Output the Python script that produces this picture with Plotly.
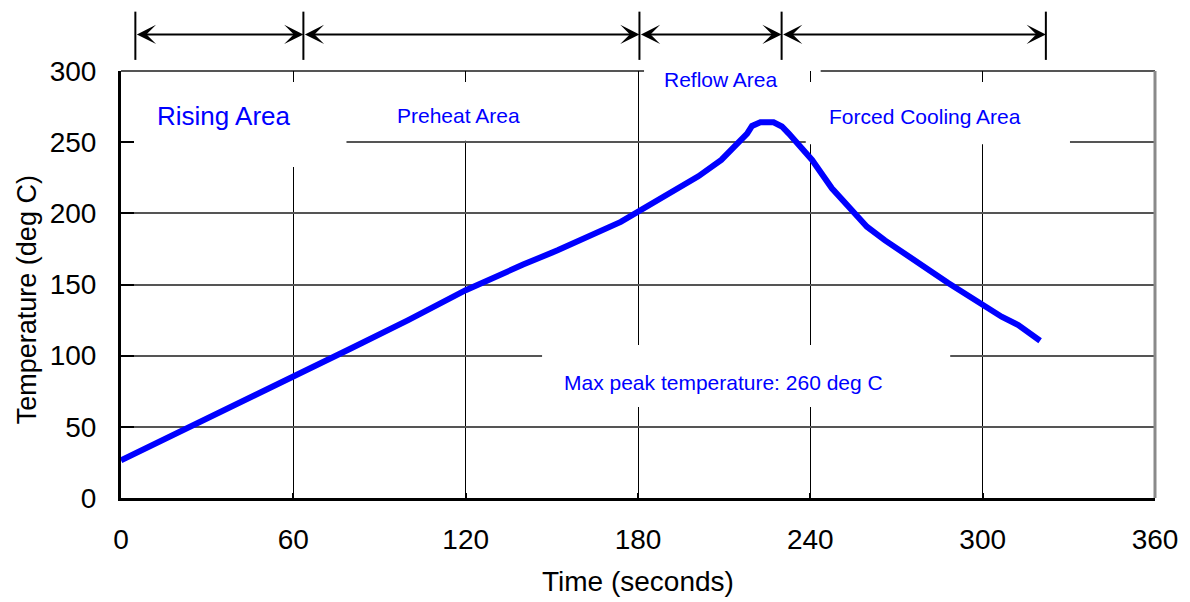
import plotly.graph_objects as go

# ---- data ----
time_s = [0, 20, 40, 60, 80, 100, 120, 140, 152, 174, 180, 190, 201, 209, 216,
          218, 219.7, 222.6, 227.2, 230.1, 232.5, 238.8, 240.6, 247.5, 253.3,
          259.7, 266, 273, 280, 288, 294, 300.5, 306.6, 312.4, 320]
temp_c = [26.5, 46, 65, 84.5, 105, 125, 146, 164, 174, 194, 201, 213, 226, 237.5, 251.5,
          256, 261.4, 264, 264, 261, 256, 242, 237.5, 217.6, 204.7,
          190.6, 181, 172, 162, 151, 143.5, 135.6, 127.4, 121.5, 110.5]

x_ticks = [0, 60, 120, 180, 240, 300, 360]
y_ticks = [0, 50, 100, 150, 200, 250, 300]

area_bounds = [5, 63.5, 180.5, 230, 322]
area_labels = ["Rising Area", "Preheat Area", "Reflow Area", "Forced Cooling Area"]
peak_label = "Max peak temperature: 260 deg C"

BLUE = "#0000FF"
FONT = "Liberation Sans, Arial, sans-serif"

fig = go.Figure()
fig.add_trace(go.Scatter(x=time_s, y=temp_c, mode="lines",
                         line=dict(color=BLUE, width=6), showlegend=False,
                         hoverinfo="skip"))

shapes = []
# top border (drawn under the white label boxes)
shapes.append(dict(type="line", xref="paper", yref="paper", x0=0, x1=1, y0=1, y1=1,
                   line=dict(color="#555555", width=2), layer="between"))
# white label boxes hiding the grid
boxes = [
    dict(xref="x", yref="y", x0=4.5, x1=78.5, y0=232.6, y1=292.3),
    dict(xref="x", yref="y", x0=88.3, x1=164, y0=251, y1=292.3),
    dict(xref="x", yref="paper", x0=182.1, x1=243.6, y0=0.944, y1=1.03),
    dict(xref="x", yref="y", x0=238.4, x1=330.4, y0=248.6, y1=292.3),
    dict(xref="x", yref="y", x0=146.6, x1=288.7, y0=63.9, y1=107.5),
]
for b in boxes:
    shapes.append(dict(type="rect", fillcolor="white", line=dict(width=0),
                       layer="between", **b))
# right border
shapes.append(dict(type="line", xref="paper", yref="paper", x0=1, x1=1, y0=0, y1=1,
                   line=dict(color="#8a8a8a", width=3), layer="above"))
# boundary bars above the plot
for xb in area_bounds:
    shapes.append(dict(type="line", xref="x", yref="paper", x0=xb, x1=xb,
                       y0=1.026, y1=1.139, line=dict(color="black", width=2),
                       layer="above"))

annotations = []
for a, b in zip(area_bounds[:-1], area_bounds[1:]):
    annotations.append(dict(x=b, y=1.0857, ax=a, ay=0, xref="x", yref="paper",
                            axref="x", ayref="pixel", text="", showarrow=True,
                            arrowhead=3, startarrowhead=3, arrowside="end+start",
                            arrowsize=1.6, startarrowsize=1.6, arrowwidth=2,
                            arrowcolor="black", standoff=0, startstandoff=0))

label_pos = [(35.6, 268.4, 26), (117.4, 268.4, 21), (208.8, 293.7, 21), (280, 267.7, 21)]
for txt, (lx, ly, fs) in zip(area_labels, label_pos):
    annotations.append(dict(x=lx, y=ly, xref="x", yref="y", text=txt, showarrow=False,
                            xanchor="center", yanchor="middle",
                            font=dict(color=BLUE, size=fs, family=FONT)))
annotations.append(dict(x=209.9, y=81.5, xref="x", yref="y", text=peak_label,
                        xanchor="center", yanchor="middle",
                        showarrow=False, font=dict(color=BLUE, size=21, family=FONT)))
# axis titles
annotations.append(dict(x=-0.0907, y=0.4637, xref="paper", yref="paper",
                        text="Temperature (deg C)", textangle=-90, showarrow=False,
                        xanchor="center", yanchor="middle",
                        font=dict(color="black", size=27, family=FONT)))
annotations.append(dict(x=0.5, y=-0.1967, xref="paper", yref="paper",
                        text="Time (seconds)", showarrow=False,
                        xanchor="center", yanchor="middle",
                        font=dict(color="black", size=28, family=FONT)))

# the page body adds an 8px offset; the figure is sized to compensate
fig.update_layout(
    width=1182, height=594, autosize=False,
    margin=dict(l=113, r=33, t=63, b=104),
    paper_bgcolor="white", plot_bgcolor="white",
    shapes=shapes, annotations=annotations,
    font=dict(family=FONT, color="black"),
    xaxis=dict(range=[0, 360], tickvals=x_ticks, ticktext=[str(v) for v in x_ticks],
               showgrid=True, gridcolor="black", gridwidth=1, zeroline=False,
               showline=True, linecolor="black", linewidth=3,
               ticks="inside", ticklen=5, tickwidth=2, tickcolor="black",
               tickfont=dict(size=28, family=FONT, color="black"),
               ticklabelstandoff=14),
    yaxis=dict(range=[0, 300], tickvals=y_ticks, ticktext=[str(v) for v in y_ticks],
               showgrid=True, gridcolor="#555555", gridwidth=1.5, zeroline=False,
               showline=True, linecolor="black", linewidth=3,
               ticks="inside", ticklen=13, tickwidth=2, tickcolor="black",
               tickfont=dict(size=28, family=FONT, color="black"),
               ticklabelstandoff=16),
)

fig.write_html("out.html")
